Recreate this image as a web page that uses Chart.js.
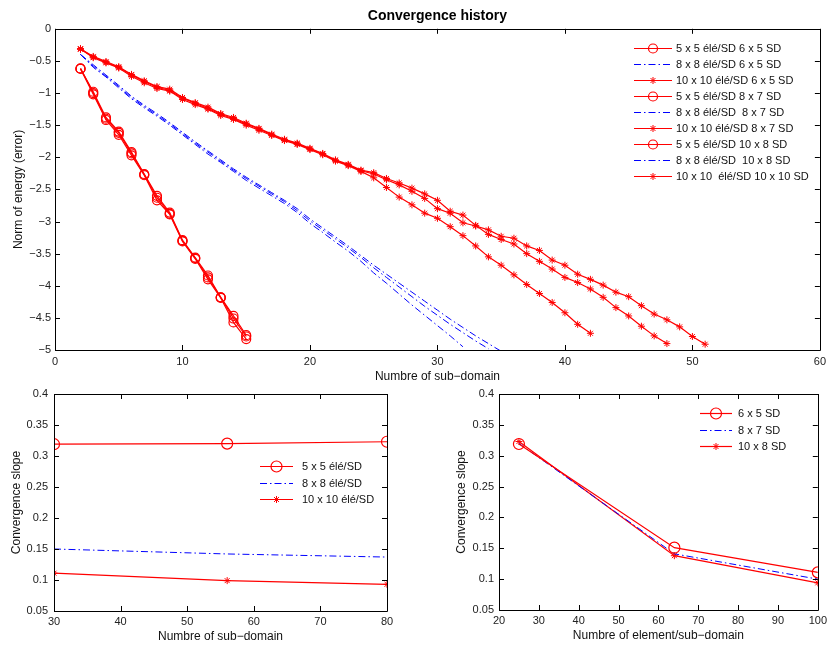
<!DOCTYPE html>
<html>
<head>
<meta charset="utf-8">
<script src="https://cdn.jsdelivr.net/npm/chart.js@4.4.1/dist/chart.umd.min.js"></script>
<style>
  html, body { margin:0; padding:0; background:#fff; }
  #wrap { position:relative; width:831px; height:646px; overflow:hidden; }
  canvas { position:absolute; }
</style>
</head>
<body>
<div id="wrap">
  <canvas id="top" width="831" height="390" style="left:0;top:0"></canvas>
  <canvas id="bl" width="400" height="266" style="left:0;top:380px"></canvas>
  <canvas id="br" width="416" height="266" style="left:415px;top:380px"></canvas>
</div>
<script>
// top plot: iteration index (number of sub-domain axis)
const xSteps = [2,3,4,5,6,7,8,9,10,11,12,13,14,15,16,17,18,19,20,21,22,23,24,25,26,
  27,28,29,30,31,32,33,34,35,36,37,38,39,40,41,42,43,44,45,46,47,48,49,50,51];

const e5_65  = [-0.62,-1.00,-1.40,-1.62,-1.94,-2.27,-2.63,-2.88,-3.30,-3.57,-3.87,-4.18,-4.51,-4.79];
const e5_87  = [-0.62,-0.98,-1.38,-1.60,-1.92,-2.26,-2.60,-2.86,-3.29,-3.56,-3.84,-4.18,-4.47,-4.77];
const e5_108 = [-0.62,-1.02,-1.42,-1.65,-1.97,-2.28,-2.67,-2.89,-3.31,-3.58,-3.90,-4.19,-4.57,-4.83];

const e8_65  = [-0.40,-0.60,-0.75,-0.92,-1.09,-1.23,-1.36,-1.50,-1.65,-1.80,-1.95,-2.08,-2.22,-2.36,
  -2.48,-2.60,-2.72,-2.86,-3.03,-3.17,-3.32,-3.46,-3.62,-3.80,-3.96,-4.13,-4.30,-4.46,-4.62,-4.78,-4.95];
const e8_87  = [-0.40,-0.58,-0.74,-0.90,-1.07,-1.21,-1.34,-1.48,-1.63,-1.78,-1.92,-2.06,-2.20,-2.33,
  -2.45,-2.57,-2.69,-2.83,-2.99,-3.13,-3.27,-3.41,-3.56,-3.72,-3.87,-4.02,-4.17,-4.32,-4.46,-4.60,
  -4.73,-4.86,-4.98];
const e8_108 = [-0.40,-0.56,-0.72,-0.88,-1.05,-1.19,-1.32,-1.46,-1.61,-1.76,-1.90,-2.04,-2.18,-2.31,
  -2.43,-2.55,-2.67,-2.80,-2.96,-3.10,-3.24,-3.38,-3.53,-3.68,-3.82,-3.96,-4.10,-4.24,-4.38,-4.52,
  -4.65,-4.78,-4.90,-5.02];

const e10_65  = [-0.31,-0.45,-0.53,-0.61,-0.74,-0.84,-0.93,-0.97,-1.10,-1.18,-1.25,-1.35,-1.41,-1.50,
  -1.58,-1.66,-1.74,-1.80,-1.88,-1.96,-2.06,-2.13,-2.22,-2.32,-2.47,-2.62,-2.74,-2.87,-2.95,-3.08,
  -3.22,-3.38,-3.55,-3.68,-3.83,-3.98,-4.12,-4.26,-4.42,-4.60,-4.74];
const e10_87  = [-0.31,-0.43,-0.51,-0.59,-0.71,-0.81,-0.90,-0.94,-1.07,-1.15,-1.22,-1.32,-1.38,-1.47,
  -1.55,-1.64,-1.72,-1.78,-1.86,-1.94,-2.04,-2.11,-2.20,-2.24,-2.33,-2.40,-2.48,-2.57,-2.67,-2.84,
  -2.90,-3.06,-3.20,-3.28,-3.35,-3.50,-3.62,-3.74,-3.87,-3.95,-4.05,-4.18,-4.34,-4.47,-4.63,-4.78,-4.90];
const e10_1010 = [-0.32,-0.44,-0.52,-0.60,-0.72,-0.82,-0.91,-0.96,-1.08,-1.16,-1.24,-1.33,-1.40,-1.48,
  -1.56,-1.65,-1.73,-1.79,-1.87,-1.95,-2.05,-2.12,-2.21,-2.26,-2.35,-2.43,-2.53,-2.64,-2.80,-2.87,
  -3.02,-3.07,-3.13,-3.23,-3.26,-3.38,-3.45,-3.60,-3.68,-3.82,-3.90,-3.99,-4.10,-4.17,-4.31,-4.44,
  -4.53,-4.64,-4.79,-4.91];

const topLabels = ['5 x 5 élé/SD 6 x 5 SD','8 x 8 élé/SD 6 x 5 SD','10 x 10 élé/SD 6 x 5 SD',
  '5 x 5 élé/SD 8 x 7 SD','8 x 8 élé/SD  8 x 7 SD','10 x 10 élé/SD 8 x 7 SD',
  '5 x 5 élé/SD 10 x 8 SD','8 x 8 élé/SD  10 x 8 SD','10 x 10  élé/SD 10 x 10 SD'];

// bottom left: slope vs number of sub-domains
const nSub = [30, 56, 80];
const slope5x5 = [0.319, 0.320, 0.323];
const slope8x8 = [0.150, 0.142, 0.137];
const slope10x10 = [0.111, 0.099, 0.093];
const leftLabels = ['5 x 5 élé/SD','8 x 8 élé/SD','10 x 10 élé/SD'];

// bottom right: slope vs elements per sub-domain
const nElem = [25, 64, 100];
const slope6x5 = [0.319, 0.151, 0.111];
const slope8x7 = [0.320, 0.141, 0.100];
const slope10x8 = [0.323, 0.138, 0.094];
const rightLabels = ['6 x 5 SD','8 x 7 SD','10 x 8 SD'];

const FONT = '"Liberation Sans", Arial, Helvetica, sans-serif';
Chart.defaults.font.family = FONT;
Chart.defaults.color = '#222';
Chart.defaults.animation = false;

const RED = '#ff0000', BLUE = '#0000ff';
const DASHDOT = [7,3,1.5,3];

function pts(xs, ys){ return ys.map((v,i)=>({x:xs[i], y:v})); }

function circleSet(label, data, r){
  return { label, data, borderColor:RED, borderWidth:1.2, pointStyle:'circle', pointRadius:r,
    pointBorderColor:RED, pointBackgroundColor:'rgba(0,0,0,0)', pointBorderWidth:1.2 };
}
function dashSet(label, data){
  return { label, data, borderColor:BLUE, borderWidth:1, borderDash:DASHDOT, pointRadius:0 };
}
function starSet(label, data, r){
  return { label, data, borderColor:RED, borderWidth:1.2, pointStyle:'star', pointRadius:r,
    pointBorderColor:RED, pointBackgroundColor:RED, pointBorderWidth:1 };
}

function minusFmt(v){
  const s = parseFloat(v.toFixed(2)).toString();
  return s.replace('-', '\u2212');
}

// box round the plot area with inward ticks on all four sides
const frame = {
  id:'frame',
  afterDatasetsDraw(chart){
    const {ctx, chartArea:{left,right,top,bottom}, scales:{x,y}} = chart;
    ctx.save();
    ctx.strokeStyle = '#000'; ctx.lineWidth = 1; ctx.setLineDash([]);
    ctx.beginPath();
    ctx.rect(Math.round(left)+0.5, Math.round(top)+0.5, Math.round(right-left), Math.round(bottom-top));
    x.ticks.forEach(t => {
      const p = Math.round(x.getPixelForValue(t.value))+0.5;
      ctx.moveTo(p,bottom); ctx.lineTo(p,bottom-5);
      ctx.moveTo(p,top); ctx.lineTo(p,top+5);
    });
    y.ticks.forEach(t => {
      const p = Math.round(y.getPixelForValue(t.value))+0.5;
      ctx.moveTo(left,p); ctx.lineTo(left+5,p);
      ctx.moveTo(right,p); ctx.lineTo(right-5,p);
    });
    ctx.stroke();
    ctx.restore();
  }
};

// legend with line sample and marker, like the original figure
const lineLegend = {
  id:'lineLegend',
  afterDraw(chart, args, o){
    const {ctx, chartArea} = chart;
    ctx.save();
    ctx.font = '11px ' + FONT;
    ctx.textBaseline = 'middle';
    chart.data.datasets.forEach((ds, i) => {
      const x = chartArea.left + o.left;
      const y = Math.round(chartArea.top + o.top + i*o.row) + 0.5;
      ctx.strokeStyle = ds.borderColor; ctx.lineWidth = ds.borderWidth;
      ctx.setLineDash(ds.borderDash || []);
      ctx.beginPath(); ctx.moveTo(x,y); ctx.lineTo(x+o.len,y); ctx.stroke();
      ctx.setLineDash([]);
      if (ds.pointRadius > 0){
        ctx.strokeStyle = ds.pointBorderColor; ctx.fillStyle = ds.pointBackgroundColor;
        ctx.lineWidth = ds.pointBorderWidth;
        Chart.helpers.drawPoint(ctx, {pointStyle:ds.pointStyle, radius:ds.pointRadius,
          borderWidth:ds.pointBorderWidth, rotation:0}, x+o.len/2, y);
      }
      ctx.fillStyle = '#111';
      ctx.fillText(ds.label, x+o.len+o.gap, y);
    });
    ctx.restore();
  }
};

function axes(o){
  return {
    x: { type:'linear', min:o.xmin, max:o.xmax,
      ticks:{ stepSize:10, autoSkip:false, maxRotation:0, padding:o.xpad, font:{size:11}, color:'#222' },
      grid:{ display:false, drawTicks:false }, border:{ display:false },
      title:{ display:true, text:o.xtitle, font:{size:12}, color:'#111', padding:{top:0,bottom:o.xtpad} },
      afterFit(s){ s.height = o.xh; } },
    y: { type:'linear', min:o.ymin, max:o.ymax,
      ticks:{ stepSize:o.ystep, autoSkip:false, padding:o.ypad, font:{size:11}, color:'#222', callback:minusFmt },
      grid:{ display:false, drawTicks:false }, border:{ display:false },
      title:{ display:true, text:o.ytitle, font:{size:12}, color:'#111', padding:{top:o.ytpad,bottom:0} },
      afterFit(s){ s.width = o.yw; } }
  };
}

new Chart(document.getElementById('top'), {
  type:'line',
  data:{ datasets:[
    circleSet(topLabels[0], pts(xSteps, e5_65), 4.5),
    dashSet(topLabels[1], pts(xSteps, e8_65)),
    starSet(topLabels[2], pts(xSteps, e10_65), 3.5),
    circleSet(topLabels[3], pts(xSteps, e5_87), 4.5),
    dashSet(topLabels[4], pts(xSteps, e8_87)),
    starSet(topLabels[5], pts(xSteps, e10_87), 3.5),
    circleSet(topLabels[6], pts(xSteps, e5_108), 4.5),
    dashSet(topLabels[7], pts(xSteps, e8_108)),
    starSet(topLabels[8], pts(xSteps, e10_1010), 3.5)
  ]},
  options:{
    responsive:false, devicePixelRatio:1,
    layout:{ padding:{left:0, right:8, top:0, bottom:0} },
    scales: axes({xmin:0, xmax:60, ymin:-5, ymax:0, ystep:0.5, xpad:5, xtpad:6, ypad:4, ytpad:11,
      xh:40, yw:55, xtitle:'Numbre of sub\u2212domain', ytitle:'Norm of energy (error)'}),
    plugins:{
      legend:{display:false}, tooltip:{enabled:false},
      title:{ display:true, text:'Convergence history', fullSize:false, color:'#000',
        font:{size:14, weight:'bold'}, padding:{top:8, bottom:4} },
      lineLegend:{ left:579, top:18.7, row:16.1, len:38, gap:4 }
    }
  },
  plugins:[frame, lineLegend]
});

new Chart(document.getElementById('bl'), {
  type:'line',
  data:{ datasets:[
    circleSet(leftLabels[0], pts(nSub, slope5x5), 5.5),
    dashSet(leftLabels[1], pts(nSub, slope8x8)),
    starSet(leftLabels[2], pts(nSub, slope10x10), 3.5)
  ]},
  options:{
    responsive:false, devicePixelRatio:1,
    layout:{ padding:{left:0, right:13, top:14, bottom:0} },
    scales: axes({xmin:30, xmax:80, ymin:0.05, ymax:0.4, ystep:0.05, xpad:4, xtpad:2, ypad:6, ytpad:9.5,
      xh:35, yw:54, xtitle:'Numbre of sub\u2212domain', ytitle:'Convergence slope'}),
    plugins:{
      legend:{display:false}, tooltip:{enabled:false},
      lineLegend:{ left:206, top:72, row:16.7, len:33, gap:9 }
    }
  },
  plugins:[frame, lineLegend]
});

new Chart(document.getElementById('br'), {
  type:'line',
  data:{ datasets:[
    circleSet(rightLabels[0], pts(nElem, slope6x5), 5.5),
    dashSet(rightLabels[1], pts(nElem, slope8x7)),
    starSet(rightLabels[2], pts(nElem, slope10x8), 3.5)
  ]},
  options:{
    responsive:false, devicePixelRatio:1,
    layout:{ padding:{left:0, right:7, top:14, bottom:0} },
    scales: axes({xmin:20, xmax:100, ymin:0.05, ymax:0.4, ystep:0.05, xpad:4, xtpad:3, ypad:5, ytpad:39.5,
      xh:36, yw:84, xtitle:'Numbre of element/sub\u2212domain', ytitle:'Convergence slope'}),
    plugins:{
      legend:{display:false}, tooltip:{enabled:false},
      lineLegend:{ left:201, top:19.3, row:16.2, len:32, gap:6 }
    }
  },
  plugins:[frame, lineLegend]
});
</script>
</body>
</html>
